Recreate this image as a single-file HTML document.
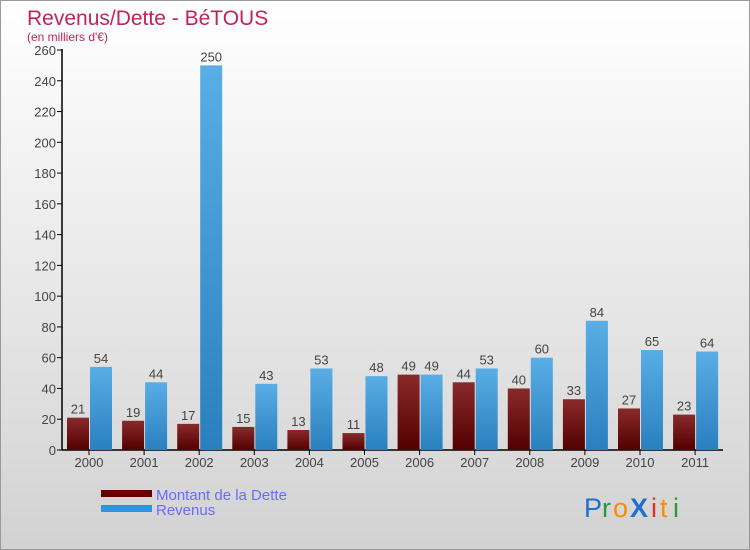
<!DOCTYPE html>
<html><head><meta charset="utf-8">
<style>
body{margin:0;}
#wrap{position:relative;width:748px;height:548px;border:1px solid #999;background:linear-gradient(#ffffff,#d2d2d2);font-family:"Liberation Sans",sans-serif;overflow:hidden;}
</style></head>
<body>
<div id="wrap">
<svg id="chart" width="748" height="548">
<text x="26" y="24" font-size="21" fill="#c0245a">Revenus/Dette - BéTOUS</text>
<text x="26" y="40" font-size="12" fill="#c0245a">(en milliers d'€)</text>
<g id="axes"></g>
<g id="bars"></g>
<rect x="100" y="489" width="51" height="7" fill="#6b0000"/>
<rect x="100" y="504" width="51" height="7" fill="#2e95dc"/>
<text x="155" y="499" font-size="15" fill="#6a6aff">Montant de la Dette</text>
<text x="155" y="514" font-size="15" fill="#6a6aff">Revenus</text>
<g font-size="27" font-family="'Liberation Sans',sans-serif">
<text x="583" y="516" fill="#1e6fd0">P</text><text x="601" y="516" fill="#2a9a3a">r</text><text x="612" y="516" fill="#ff8a00">o</text><text x="629" y="516" fill="#1e6fd0" font-weight="bold">X</text><text x="650" y="516" fill="#e03020">i</text><text x="659" y="516" fill="#ff8a00">t</text><text x="672" y="516" fill="#2a9a3a">i</text>
</g>
</svg>
</div>
<script>
const years=["2000","2001","2002","2003","2004","2005","2006","2007","2008","2009","2010","2011"];
const dette=[21,19,17,15,13,11,49,44,40,33,27,23];
const revenus=[54,44,250,43,53,48,49,53,60,84,65,64];
const yTicks=[0,20,40,60,80,100,120,140,160,180,200,220,240,260];
const NS="http://www.w3.org/2000/svg";
const y0=449,pxPer=400/260,x0=61,step=55.1;
function y(v){return y0-v*pxPer;}
function gx(i){return x0+27+i*step;}
const axes=document.getElementById('axes'),bars=document.getElementById('bars');
function mk(tag,attrs,parent){const e=document.createElementNS(NS,tag);for(const k in attrs)e.setAttribute(k,attrs[k]);parent.appendChild(e);return e;}
const defs=mk('defs',{},axes);
defs.innerHTML='<linearGradient id="gd" x1="0" y1="0" x2="0" y2="1"><stop offset="0" stop-color="#8a2a2a"/><stop offset="1" stop-color="#520000"/></linearGradient><linearGradient id="gr" x1="0" y1="0" x2="0" y2="1"><stop offset="0" stop-color="#5aaee6"/><stop offset="1" stop-color="#2a7fbe"/></linearGradient>';
yTicks.forEach(t=>{
  const l=mk('line',{x1:x0-5,x2:x0,y1:y(t),y2:y(t),stroke:'#000'},axes);
  
  
  const tx=mk('text',{x:x0-6,y:y(t)+5,'font-size':13,fill:'#444','text-anchor':'end'},axes);
  tx.textContent=t;
  
  
});
const ya=mk('line',{x1:x0,x2:x0,y1:y0,y2:y(260)-1,stroke:'#000','stroke-width':1.5},axes);


const xa=mk('line',{x1:x0,x2:722,y1:y0,y2:y0,stroke:'#000','stroke-width':1.5},axes);


years.forEach((yr,i)=>{
  const c=gx(i);
  const tk=mk('line',{x1:c,x2:c,y1:y0,y2:y0+5,stroke:'#000'},axes);
  
  
  const lb=mk('text',{x:c,y:y0+17,'font-size':13,fill:'#444','text-anchor':'middle'},axes);
  lb.textContent=yr;
  
  
  const b1=mk('rect',{x:c-22,y:y(dette[i]),width:22,height:y0-y(dette[i]),fill:'url(#gd)'},bars);
  
  
  const b2=mk('rect',{x:c+1,y:y(revenus[i]),width:22,height:y0-y(revenus[i]),fill:'url(#gr)'},bars);
  
  
  const v1=mk('text',{x:c-11,y:y(dette[i])-4,'font-size':13,fill:'#444','text-anchor':'middle'},bars);
  v1.textContent=dette[i];
  
  
  const v2=mk('text',{x:c+12,y:y(revenus[i])-4,'font-size':13,fill:'#444','text-anchor':'middle'},bars);
  v2.textContent=revenus[i];
  
  
});
</script>
</body></html>
